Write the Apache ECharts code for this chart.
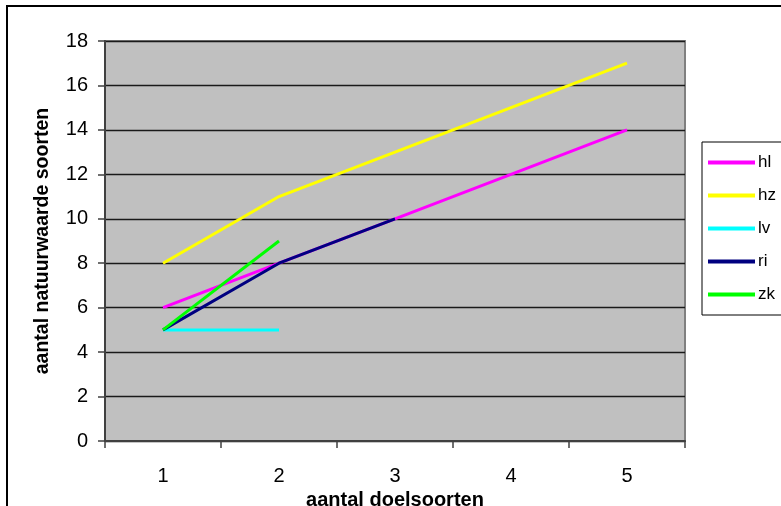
<!DOCTYPE html>
<html>
<head>
<meta charset="utf-8">
<script src="https://cdn.jsdelivr.net/npm/echarts@6/dist/echarts.min.js"></script>
<style>
  html, body { margin: 0; padding: 0; background: #fff; }
  #chart { width: 781px; height: 506px; }
</style>
</head>
<body>
<div id="chart"></div>
<script>
// aantal doelsoorten (categories on the x axis)
const categories = ['1', '2', '3', '4', '5'];

// aantal natuurwaarde soorten per gebied
const hl = [6, 8, 10, 12, 14];
const hz = [8, 11, 13, 15, 17];
const lv = [5, 5];
const ri = [5, 8, 10];
const zk = [5, 9];

const seriesNames = ['hl', 'hz', 'lv', 'ri', 'zk'];
const seriesValues = [hl, hz, lv, ri, zk];
const seriesColors = ['#ff00ff', '#ffff00', '#00ffff', '#000080', '#00ff00'];

const FONT = 'Arial, "Liberation Sans", sans-serif';

const chart = echarts.init(document.getElementById('chart'), null, { renderer: 'canvas' });

chart.setOption({
  animation: false,
  backgroundColor: '#ffffff',
  graphic: [{
    type: 'rect',
    silent: true,
    shape: { x: 7, y: 6, width: 820, height: 540 },
    style: { fill: 'none', stroke: '#000', lineWidth: 2 },
    z: -1
  }],
  grid: {
    left: 105, right: 96, top: 41, bottom: 65,
    containLabel: false,
    outerBoundsMode: 'none',
    show: true,
    backgroundColor: '#c0c0c0',
    borderColor: '#808080',
    borderWidth: 2
  },
  legend: {
    orient: 'vertical',
    left: 702, top: 142,
    padding: [12, 40, 12, 6],
    itemGap: 16,
    itemWidth: 47,
    itemHeight: 4,
    icon: 'rect',
    borderColor: '#000',
    borderWidth: 1,
    backgroundColor: '#fff',
    textStyle: { fontFamily: FONT, fontSize: 17, color: '#000', padding: [0, 0, 0, -2] },
    data: seriesNames
  },
  xAxis: {
    type: 'category',
    data: categories,
    boundaryGap: true,
    name: 'aantal doelsoorten',
    nameLocation: 'middle',
    nameGap: 33,
    nameTextStyle: { fontFamily: FONT, fontSize: 20, fontWeight: 'bold', color: '#000' },
    axisLine: { show: true, lineStyle: { color: '#404040', width: 2 } },
    axisTick: { show: true, length: 7, lineStyle: { color: '#404040', width: 1.5 } },
    axisLabel: { fontFamily: FONT, fontSize: 20, color: '#000', margin: 25 },
    splitLine: { show: false }
  },
  yAxis: {
    type: 'value',
    min: 0, max: 18, interval: 2,
    name: 'aantal natuurwaarde soorten',
    nameLocation: 'middle',
    nameGap: 52,
    nameTextStyle: { fontFamily: FONT, fontSize: 19.5, fontWeight: 'bold', color: '#000' },
    axisLine: { show: true, lineStyle: { color: '#404040', width: 2 } },
    axisTick: { show: true, length: 7, lineStyle: { color: '#404040', width: 1.5 } },
    axisLabel: { fontFamily: FONT, fontSize: 20, color: '#000', margin: 17 },
    splitLine: { show: true, lineStyle: { color: '#1a1a1a', width: 1.3 } }
  },
  series: seriesNames.map((name, i) => ({
    name: name,
    type: 'line',
    data: seriesValues[i],
    showSymbol: false,
    symbol: 'none',
    color: seriesColors[i],
    lineStyle: { color: seriesColors[i], width: 3 },
    itemStyle: { color: seriesColors[i] },
    z: 2 + i
  }))
});
</script>
</body>
</html>
